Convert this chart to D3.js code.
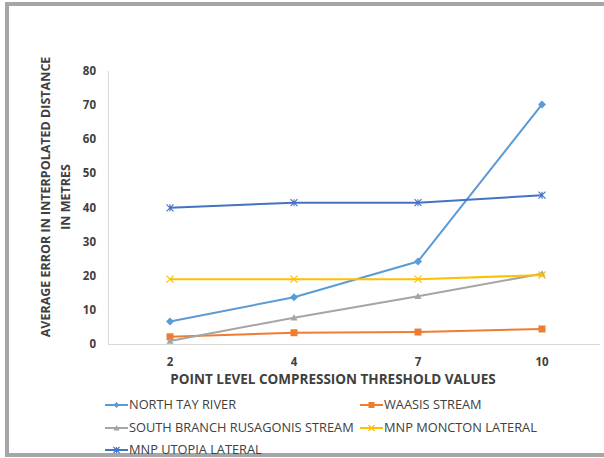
<!DOCTYPE html>
<html>
<head>
<meta charset="utf-8">
<script src="https://cdn.jsdelivr.net/npm/d3@7"></script>
<style>
  html, body { margin: 0; padding: 0; background: #fff; }
  svg { display: block; }
  text { font-family: "Open Sans", "Liberation Sans", sans-serif; fill: #404040; }
</style>
</head>
<body>
<svg id="chart" width="604" height="458"></svg>
<script>
// Compression threshold categories
const thresholds = ["2", "4", "7", "10"];
const yTicks = [0, 10, 20, 30, 40, 50, 60, 70, 80];

// Average interpolated-distance error (metres) per stream
const northTayRiver = [6.6, 13.7, 24.2, 70.2];
const waasisStream = [2.1, 3.3, 3.5, 4.4];
const southBranchRusagonis = [0.9, 7.7, 14.0, 20.6];
const mnpMonctonLateral = [19.0, 19.0, 19.0, 20.2];
const mnpUtopiaLateral = [39.9, 41.4, 41.4, 43.6];

const seriesNames = ["NORTH TAY RIVER", "WAASIS STREAM", "SOUTH BRANCH RUSAGONIS STREAM", "MNP MONCTON LATERAL", "MNP UTOPIA LATERAL"];
const seriesValues = [northTayRiver, waasisStream, southBranchRusagonis, mnpMonctonLateral, mnpUtopiaLateral];
const seriesColors = ["#5b9bd5", "#ed7d31", "#a5a5a5", "#ffc000", "#4472c4"];
const seriesMarkers = ["diamond", "square", "triangle", "cross", "star"];

const svg = d3.select("#chart");

// outer frame
svg.append("rect").attr("x", 7).attr("y", 4).attr("width", 620).attr("height", 451)
  .attr("fill", "none").attr("stroke", "#a6a6a6").attr("stroke-width", 4);
svg.append("line").attr("x1", 7).attr("x2", 604).attr("y1", 455.5).attr("y2", 455.5)
  .attr("stroke", "#a6a6a6").attr("stroke-width", 1);

const x = d3.scalePoint().domain(thresholds).range([108, 604]).padding(0.5);
const y = d3.scaleLinear().domain([0, 80]).range([344, 71]);

// axes lines
svg.append("line").attr("x1", 108.5).attr("x2", 108.5).attr("y1", y(80)).attr("y2", y(0))
  .attr("stroke", "#d9d9d9");
svg.append("line").attr("x1", 108).attr("x2", 600).attr("y1", y(0) + 0.5).attr("y2", y(0) + 0.5)
  .attr("stroke", "#d9d9d9");

// y tick labels
svg.append("g").selectAll("text").data(yTicks).join("text")
  .attr("x", 96).attr("y", d => y(d)).attr("dy", "0.35em")
  .attr("text-anchor", "end").attr("font-size", 11.5).attr("font-weight", "bold")
  .text(d => d);

// x tick labels
svg.append("g").selectAll("text").data(thresholds).join("text")
  .attr("x", d => x(d)).attr("y", 362).attr("dy", "0.35em")
  .attr("text-anchor", "middle").attr("font-size", 11.5).attr("font-weight", "bold")
  .text(d => d);

// axis titles
svg.append("text").attr("x", 333).attr("y", 379).attr("dy", "0.35em")
  .attr("text-anchor", "middle").attr("font-size", 13.5).attr("font-weight", "bold")
  .text("POINT LEVEL COMPRESSION THRESHOLD VALUES");

const yTitle = svg.append("text").attr("transform", "translate(46,197) rotate(-90)")
  .attr("text-anchor", "middle").attr("font-size", 12.5).attr("font-weight", "bold");
yTitle.append("tspan").attr("x", 0).attr("dy", "0.35em").text("AVERAGE ERROR IN INTERPOLATED DISTANCE");
yTitle.append("tspan").attr("x", 0).attr("dy", "1.6em").text("IN METRES");

// marker drawing
function drawMarker(g, type, color, size) {
  const s = size;
  const h = s / 2;
  if (type === "diamond") {
    g.append("path").attr("d", `M0,${-h}L${h},0L0,${h}L${-h},0Z`).attr("fill", color);
  } else if (type === "square") {
    g.append("rect").attr("x", -h).attr("y", -h).attr("width", s).attr("height", s).attr("fill", color);
  } else if (type === "triangle") {
    g.append("path").attr("d", `M0,${-h}L${h},${h * 0.8}L${-h},${h * 0.8}Z`).attr("fill", color);
  } else if (type === "cross") {
    g.append("path").attr("d", `M${-h},${-h}L${h},${h}M${-h},${h}L${h},${-h}`)
      .attr("stroke", color).attr("stroke-width", 1.3).attr("fill", "none");
  } else if (type === "star") {
    g.append("path").attr("d", `M${-h},${-h}L${h},${h}M${-h},${h}L${h},${-h}M0,${-h}L0,${h}`)
      .attr("stroke", color).attr("stroke-width", 1.1).attr("fill", "none");
  }
}

const line = d3.line().x((d, i) => x(thresholds[i])).y(d => y(d));

seriesValues.forEach((vals, k) => {
  svg.append("path").datum(vals).attr("d", line)
    .attr("fill", "none").attr("stroke", seriesColors[k]).attr("stroke-width", 2)
    .attr("stroke-linejoin", "round");
  vals.forEach((v, i) => {
    const g = svg.append("g").attr("transform", `translate(${x(thresholds[i])},${y(v)})`);
    drawMarker(g, seriesMarkers[k], seriesColors[k], k === 0 ? 8 : 7);
  });
});

// legend
const legendPos = [[105, 405], [360, 405], [105, 428], [360, 428], [105, 450]];
seriesNames.forEach((name, k) => {
  const [lx, ly] = legendPos[k];
  const g = svg.append("g").attr("transform", `translate(${lx},${ly})`);
  g.append("line").attr("x1", 0).attr("x2", 23).attr("y1", 0).attr("y2", 0)
    .attr("stroke", seriesColors[k]).attr("stroke-width", 2);
  const m = g.append("g").attr("transform", "translate(11.5,0)");
  drawMarker(m, seriesMarkers[k], seriesColors[k], 6);
  g.append("text").attr("x", 24).attr("y", 0).attr("dy", "0.35em")
    .attr("font-size", 12.8).text(name);
});
</script>
</body>
</html>
